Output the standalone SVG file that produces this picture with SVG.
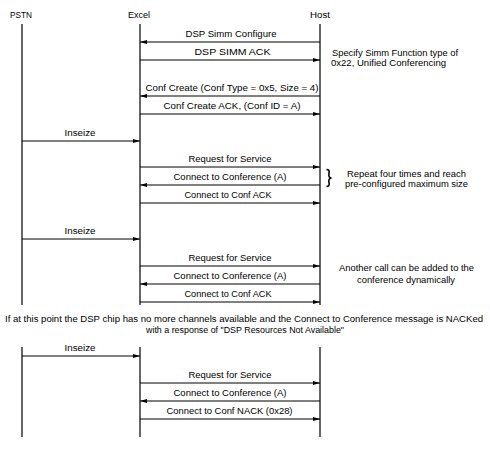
<svg xmlns="http://www.w3.org/2000/svg" width="490" height="465" viewBox="0 0 490 465">
<style>
text{font-family:"Liberation Sans",Arial,sans-serif;font-size:9.6px;fill:#000}
.m{text-anchor:middle}
.life{stroke:#000;stroke-width:1.2;fill:none}
.msg{stroke:#000;stroke-width:1;fill:none;marker-end:url(#ah)}
</style>
<defs>
<marker id="ah" markerUnits="userSpaceOnUse" markerWidth="8" markerHeight="6" refX="7" refY="2.5" orient="auto">
<path d="M0,0.5 L7,2.5 L0,4.5 z" fill="#000"/>
</marker>
</defs>
<rect width="490" height="465" fill="#fff"/>
<g id="pstn">
<text x="21" y="18" class="m" textLength="22" lengthAdjust="spacingAndGlyphs">PSTN</text>
<line class="life" x1="22" y1="24" x2="22" y2="305"/>
<line class="life" x1="22" y1="347" x2="22" y2="437"/>
</g>
<g id="excel">
<text x="139" y="18" class="m" textLength="22" lengthAdjust="spacingAndGlyphs">Excel</text>
<line class="life" x1="140" y1="24" x2="140" y2="305"/>
<line class="life" x1="140" y1="347" x2="140" y2="437"/>
</g>
<g id="host">
<text x="320" y="18" class="m" textLength="20" lengthAdjust="spacingAndGlyphs">Host</text>
<line class="life" x1="320" y1="24" x2="320" y2="305"/>
<line class="life" x1="320" y1="347" x2="320" y2="437"/>
</g>
<g id="connectors">
<line class="msg" x1="320" y1="42" x2="140" y2="42"/>
<line class="msg" x1="140" y1="60" x2="320" y2="60"/>
<line class="msg" x1="320" y1="96" x2="140" y2="96"/>
<line class="msg" x1="140" y1="114" x2="320" y2="114"/>
<line class="msg" x1="22" y1="141" x2="140" y2="141"/>
<line class="msg" x1="140" y1="167" x2="320" y2="167"/>
<line class="msg" x1="320" y1="185" x2="140" y2="185"/>
<line class="msg" x1="140" y1="203" x2="320" y2="203"/>
<line class="msg" x1="22" y1="239" x2="140" y2="239"/>
<line class="msg" x1="140" y1="266" x2="320" y2="266"/>
<line class="msg" x1="320" y1="284" x2="140" y2="284"/>
<line class="msg" x1="140" y1="302" x2="320" y2="302"/>
<line class="msg" x1="22" y1="356" x2="140" y2="356"/>
<line class="msg" x1="140" y1="383" x2="320" y2="383"/>
<line class="msg" x1="320" y1="401" x2="140" y2="401"/>
<line class="msg" x1="140" y1="419" x2="320" y2="419"/>
</g>
<g id="labels">
<text x="231" y="37" class="m" textLength="91" lengthAdjust="spacingAndGlyphs">DSP Simm Configure</text>
<text x="232.5" y="55" class="m" textLength="76" lengthAdjust="spacingAndGlyphs">DSP SIMM ACK</text>
<text x="232" y="91" class="m" textLength="173" lengthAdjust="spacingAndGlyphs">Conf Create (Conf Type = 0x5, Size = 4)</text>
<text x="232" y="109" class="m" textLength="137" lengthAdjust="spacingAndGlyphs">Conf Create ACK, (Conf ID = A)</text>
<text x="80" y="136" class="m" textLength="31" lengthAdjust="spacingAndGlyphs">Inseize</text>
<text x="230" y="162" class="m" textLength="83" lengthAdjust="spacingAndGlyphs">Request for Service</text>
<text x="230" y="180" class="m" textLength="113" lengthAdjust="spacingAndGlyphs">Connect to Conference (A)</text>
<text x="228" y="198" class="m" textLength="87" lengthAdjust="spacingAndGlyphs">Connect to Conf ACK</text>
<text x="80" y="234" class="m" textLength="31" lengthAdjust="spacingAndGlyphs">Inseize</text>
<text x="230" y="261" class="m" textLength="83" lengthAdjust="spacingAndGlyphs">Request for Service</text>
<text x="230" y="279" class="m" textLength="113" lengthAdjust="spacingAndGlyphs">Connect to Conference (A)</text>
<text x="228" y="297" class="m" textLength="87" lengthAdjust="spacingAndGlyphs">Connect to Conf ACK</text>
<text x="80" y="351" class="m" textLength="31" lengthAdjust="spacingAndGlyphs">Inseize</text>
<text x="230" y="378" class="m" textLength="83" lengthAdjust="spacingAndGlyphs">Request for Service</text>
<text x="230" y="396" class="m" textLength="113" lengthAdjust="spacingAndGlyphs">Connect to Conference (A)</text>
<text x="229.5" y="414" class="m" textLength="126" lengthAdjust="spacingAndGlyphs">Connect to Conf NACK (0x28)</text>
</g>
<g id="notes">
<text x="332" y="56" textLength="126" lengthAdjust="spacingAndGlyphs">Specify Simm Function type of</text>
<text x="331" y="66" textLength="115" lengthAdjust="spacingAndGlyphs">0x22, Unified Conferencing</text>
<path d="M326.5,169.5 Q330,169.5 329,173.5 Q328,177.5 331.5,178 Q328,178.5 329,182.5 Q330,186.5 326.5,186.5" fill="none" stroke="#000" stroke-width="1.6"/>
<text x="347" y="177" textLength="119" lengthAdjust="spacingAndGlyphs">Repeat four times and reach</text>
<text x="345" y="187" textLength="123" lengthAdjust="spacingAndGlyphs">pre-configured maximum size</text>
<text x="339" y="271" textLength="135" lengthAdjust="spacingAndGlyphs">Another call can be added to the</text>
<text x="357" y="283" textLength="98" lengthAdjust="spacingAndGlyphs">conference dynamically</text>
<text x="244" y="322" class="m" textLength="478" lengthAdjust="spacingAndGlyphs">If at this point the DSP chip has no more channels available and the Connect to Conference message is NACKed</text>
<text x="245" y="333" class="m" textLength="198" lengthAdjust="spacingAndGlyphs">with a response of "DSP Resources Not Available"</text>
</g>
</svg>
